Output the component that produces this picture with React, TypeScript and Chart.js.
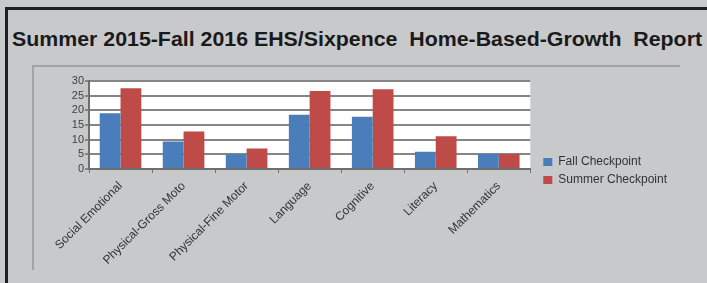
import { useEffect, useLayoutEffect, useRef } from "react";
import { Chart, registerables } from "chart.js";

Chart.register(...registerables);

const titleText = "Summer 2015-Fall 2016 EHS/Sixpence  Home-Based-Growth  Report";
const categories = [
  "Social Emotional",
  "Physical-Gross Moto",
  "Physical-Fine Motor",
  "Language",
  "Cognitive",
  "Literacy",
  "Mathematics",
];
const fallCheckpoint = [19, 9.4, 5, 18.5, 17.8, 5.9, 5.1];
const summerCheckpoint = [27.5, 12.8, 7, 26.6, 27.2, 11.2, 5.1];
const seriesNames = ["Fall Checkpoint", "Summer Checkpoint"];
const yTicks = [0, 5, 10, 15, 20, 25, 30];

const BG = "#c8c9cb";

const plotBackground = {
  id: "plotBackground",
  beforeDraw(chart: any) {
    const { ctx, chartArea } = chart;
    if (!chartArea) return;
    ctx.save();
    ctx.fillStyle = "#ffffff";
    ctx.fillRect(chartArea.left, chartArea.top, chartArea.right - chartArea.left, chartArea.bottom - chartArea.top);
    ctx.restore();
  },
};

// nudge the legend: small gap from the plot area, and up to sit beside the bars
const legendNudge = {
  id: "legendNudge",
  afterLayout(chart: any) {
    const l = chart.legend;
    if (!l) return;
    l.left += 7;
    l.right += 7;
    l.top -= 9;
    l.bottom -= 9;
  },
};

export default function App() {
  const canvasRef = useRef<HTMLCanvasElement | null>(null);
  const titleRef = useRef<HTMLSpanElement | null>(null);

  useLayoutEffect(() => {
    const el = titleRef.current;
    if (!el) return;
    const w = el.offsetWidth;
    if (w > 0) el.style.transform = `scaleX(${690 / w})`;
  }, []);

  useEffect(() => {
    const canvas = canvasRef.current;
    if (!canvas) return;
    const chart = new Chart(canvas, {
      type: "bar",
      data: {
        labels: categories,
        datasets: [
          {
            label: seriesNames[0],
            data: fallCheckpoint,
            backgroundColor: "#4a7ebb",
            borderWidth: 0,
            categoryPercentage: 0.66,
            barPercentage: 1,
          },
          {
            label: seriesNames[1],
            data: summerCheckpoint,
            backgroundColor: "#be4b48",
            borderWidth: 0,
            categoryPercentage: 0.66,
            barPercentage: 1,
          },
        ],
      },
      options: {
        animation: false,
        responsive: false,
        devicePixelRatio: 1,
        layout: { padding: { top: 13, bottom: 0, left: 0, right: 37 } },
        plugins: {
          title: { display: false },
          tooltip: { enabled: false },
          legend: {
            position: "right",
            align: "center",
            labels: {
              boxWidth: 9,
              boxHeight: 8,
              padding: 6,
              color: "#333333",
              font: { family: "'Liberation Sans', Arial, sans-serif", size: 12 },
            },
          },
        },
        scales: {
          x: {
            grid: {
              display: true,
              drawOnChartArea: false,
              drawTicks: true,
              tickLength: 4,
              offset: true,
              color: "#6e6e6e",
              lineWidth: 1,
            },
            border: { display: true, color: "#6e6e6e", width: 2 },
            ticks: {
              minRotation: 45,
              maxRotation: 45,
              autoSkip: false,
              padding: 6,
              color: "#333333",
              font: { family: "'Liberation Sans', Arial, sans-serif", size: 12 },
            },
            afterFit(scale: any) {
              scale.height = 110;
            },
          },
          y: {
            min: yTicks[0],
            max: yTicks[yTicks.length - 1],
            grid: {
              color: "#858585",
              lineWidth: 2,
              drawTicks: true,
              tickLength: 4,
            },
            border: { display: true, color: "#6e6e6e", width: 2 },
            ticks: {
              autoSkip: false,
              padding: 1,
              color: "#404040",
              font: { family: "'Liberation Sans', Arial, sans-serif", size: 11 },
            },
            afterBuildTicks(scale: any) {
              scale.ticks = yTicks.map((v) => ({ value: v }));
            },
            afterFit(scale: any) {
              scale.width = 56;
            },
          },
        },
      },
      plugins: [plotBackground, legendNudge],
    });
    return () => chart.destroy();
  }, []);

  return (
    <div style={{ position: "fixed", left: 0, top: 0, width: 707, height: 283, background: BG, overflow: "hidden" }}>
      <div
        style={{
          position: "absolute",
          left: 5,
          top: 7,
          width: 720,
          height: 300,
          border: "3px solid #1f1f1f",
          boxSizing: "border-box",
        }}
      />
      <span
        ref={titleRef}
        style={{
          position: "absolute",
          left: 12,
          top: 27,
          whiteSpace: "pre",
          fontFamily: "'Liberation Sans', Arial, sans-serif",
          fontWeight: "bold",
          fontSize: 20.5,
          lineHeight: "24px",
          color: "#1a1a1a",
          transformOrigin: "0 0",
          display: "inline-block",
        }}
      >
        {titleText}
      </span>
      <div style={{ position: "absolute", left: 33, top: 65, width: 647, height: 2, background: "#a3a3a3" }} />
      <div style={{ position: "absolute", left: 32, top: 65, width: 2, height: 205, background: "#a3a3a3" }} />
      <canvas
        ref={canvasRef}
        width={674}
        height={211}
        style={{ position: "absolute", left: 33, top: 68, width: 674, height: 211 }}
      />
    </div>
  );
}
